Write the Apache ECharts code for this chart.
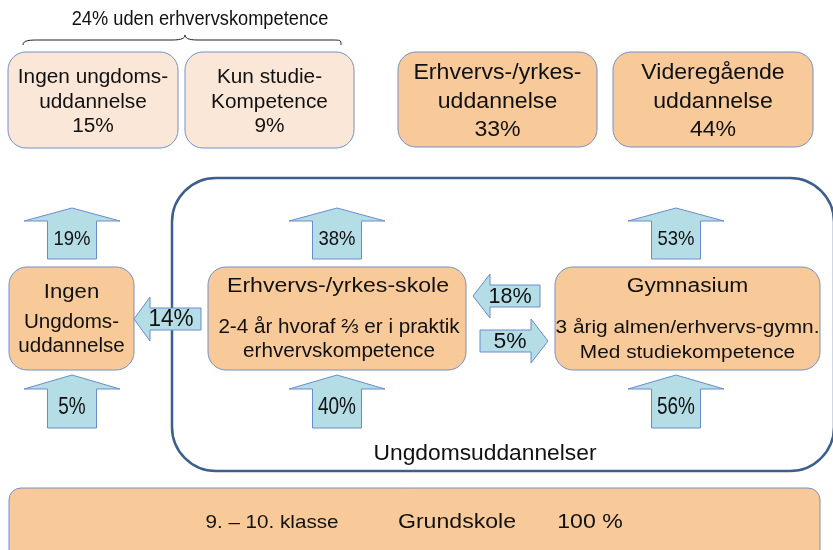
<!DOCTYPE html>
<html>
<head>
<meta charset="utf-8">
<script src="https://cdn.jsdelivr.net/npm/echarts@6/dist/echarts.min.js"></script>
<style>
  html, body { margin: 0; padding: 0; background: #ffffff; }
  #chart { width: 833px; height: 550px; }
</style>
</head>
<body>
<div id="chart"></div>
<script>
// ---- data ----
const withoutCompetence = 24;
const outcomeLabels = ["Ingen ungdoms-\nuddannelse", "Kun studie-\nKompetence", "Erhvervs-/yrkes-\nuddannelse", "Videregående\nuddannelse"];
const outcomeShares = [15, 9, 33, 44];
const schoolNames = ["Ingen", "Erhvervs-/yrkes-skole", "Gymnasium"];
const schoolNotes = ["Ungdoms-\nuddannelse", "2-4 år hvoraf ⅔ er i praktik\nerhvervskompetence", "3 årig almen/erhvervs-gymn.\nMed studiekompetence"];
const intakeShares = [5, 40, 56];   // fra grundskole
const outflowShares = [19, 38, 53]; // videre
const transferLabels = ["Erhverv → Ingen", "Gymnasium → Erhverv", "Erhverv → Gymnasium"];
const transferShares = [14, 18, 5];
const groupLabel = "Ungdomsuddannelser";
const baseLabels = ["9. – 10. klasse", "Grundskole", "100 %"];

// ---- layout (diagram units = px on hidden axes) ----
const outcomeBoxes = [[8, 52, 178, 148], [185, 52, 354, 148], [398, 52, 597, 147], [613, 52, 813, 147]];
const schoolBoxes = [[9, 267, 134, 370], [208, 267, 466, 370], [555, 267, 820, 370]];
const arrowCenters = [72, 337, 676];
const sideArrows = [
  // tip x, tail x, head base x, center y
  [134, 201, 150, 319],
  [473, 540, 490, 296],
  [548, 480, 531, 341]
];

const FONT = "Liberation Sans, Arial, sans-serif";
const orangeLight = "#fbe7d7";
const orange = "#f8ca9a";
const boxBorder = "#7690c8";
const arrowFill = "#b5dde6";
const arrowBorder = "#6a8ccc";

let myChart = echarts.init(document.getElementById("chart"));

function rectEl(api, b, fill, stroke, r, lw) {
  let p0 = api.coord([b[0], b[1]]);
  let p1 = api.coord([b[2], b[3]]);
  return {
    type: "rect",
    shape: { x: p0[0], y: p0[1], width: p1[0] - p0[0], height: p1[1] - p0[1], r: r },
    style: { fill: fill, stroke: stroke, lineWidth: lw || 1 }
  };
}

// sx: vandret skalering (originalen er strakt/presset lidt)
function textEl(api, x, y, text, size, sx, lh) {
  let p = api.coord([x, y]);
  return {
    type: "text",
    x: p[0],
    y: p[1],
    scaleX: sx || 1,
    style: {
      text: text,
      fontSize: size,
      fontFamily: FONT,
      fill: "#111111",
      align: "center",
      verticalAlign: "middle",
      lineHeight: lh || size * 1.2
    }
  };
}

function polyEl(api, pts) {
  return {
    type: "polygon",
    shape: { points: pts.map(p => api.coord(p)) },
    style: { fill: arrowFill, stroke: arrowBorder, lineWidth: 1 }
  };
}

function upArrow(api, cx, yTip, yHead, yBot) {
  let hw = 48, sw = 24.5;
  return polyEl(api, [
    [cx, yTip], [cx + hw, yHead], [cx + sw, yHead], [cx + sw, yBot],
    [cx - sw, yBot], [cx - sw, yHead], [cx - hw, yHead]
  ]);
}

function sideArrow(api, a) {
  let xt = a[0], xe = a[1], xh = a[2], cy = a[3];
  let hh = 22, sh = 11;
  return polyEl(api, [
    [xt, cy], [xh, cy - hh], [xh, cy - sh], [xe, cy - sh],
    [xe, cy + sh], [xh, cy + sh], [xh, cy + hh]
  ]);
}

function braceEl(api) {
  let pts = [[23, 45], [23, 40], [30, 40], [40, 40], [172, 40], [182, 40], [185, 38], [185, 35],
             [185, 38], [188, 40], [198, 40], [331, 40], [341, 40], [341, 40], [341, 45]];
  let c = pts.map(p => api.coord(p));
  let d = "M" + c[0] + " C" + c[1] + " " + c[2] + " " + c[3] +
          " L" + c[4] + " C" + c[5] + " " + c[6] + " " + c[7] +
          " C" + c[8] + " " + c[9] + " " + c[10] +
          " L" + c[11] + " C" + c[12] + " " + c[13] + " " + c[14];
  return {
    type: "path",
    shape: { pathData: d },
    style: { fill: "none", stroke: "#222222", lineWidth: 1 }
  };
}

myChart.setOption({
  animation: false,
  backgroundColor: "#ffffff",
  grid: { left: 0, right: 0, top: 0, bottom: 0 },
  xAxis: { type: "value", min: 0, max: 833, show: false },
  yAxis: { type: "value", min: 0, max: 550, inverse: true, show: false },
  series: [
    {
      // rammen om ungdomsuddannelser + grundskole
      type: "custom",
      silent: true,
      data: [[0]],
      renderItem: function (params, api) {
        return {
          type: "group",
          children: [
            rectEl(api, [172, 178, 834, 471], "none", "#3d5f8e", 44, 2.5),
            textEl(api, 485, 454, groupLabel, 21.5, 1.06),
            rectEl(api, [9, 488, 820, 562], orange, boxBorder, 12, 1),
            textEl(api, 272, 523, baseLabels[0], 18.6, 1.11),
            textEl(api, 457, 522, baseLabels[1], 21, 1.1),
            textEl(api, 590, 522, baseLabels[2], 21, 1.1)
          ]
        };
      }
    },
    {
      // resultater øverst
      type: "custom",
      silent: true,
      data: outcomeShares.map((v, i) => [i, v]),
      renderItem: function (params, api) {
        let i = api.value(0);
        let b = outcomeBoxes[i];
        let light = i < 2;
        let cx = (b[0] + b[2]) / 2;
        let kids = [
          rectEl(api, b, light ? orangeLight : orange, boxBorder, 18, 1),
          light
            ? textEl(api, cx, (b[1] + b[3]) / 2 + 2, outcomeLabels[i] + "\n" + api.value(1) + "%", 20, 1.04, 24.5)
            : textEl(api, cx, (b[1] + b[3]) / 2 + 2, outcomeLabels[i] + "\n" + api.value(1) + "%", 22, 1.05, 28.5)
        ];
        if (i === 0) {
          kids.push(braceEl(api));
          kids.push(textEl(api, 200, 19, withoutCompetence + "% uden erhvervskompetence", 20.5, 0.89));
        }
        return { type: "group", children: kids };
      }
    },
    {
      // skoler
      type: "custom",
      silent: true,
      data: schoolNames.map((v, i) => [i]),
      renderItem: function (params, api) {
        let i = api.value(0);
        let b = schoolBoxes[i];
        let cx = (b[0] + b[2]) / 2;
        let kids = [rectEl(api, b, orange, boxBorder, 18, 1)];
        if (i === 0) {
          kids.push(textEl(api, cx, 292, schoolNames[i], 20.5, 1.08));
          kids.push(textEl(api, cx, 334, schoolNotes[i], 20, 1.03, 24));
        } else if (i === 1) {
          kids.push(textEl(api, cx + 1, 286, schoolNames[i], 21, 1.1));
          kids.push(textEl(api, cx + 2, 340, schoolNotes[i], 19.5, 1.06, 24));
        } else {
          kids.push(textEl(api, cx, 286, schoolNames[i], 20, 1.14));
          kids.push(textEl(api, cx, 340, schoolNotes[i], 18.6, 1.12, 25));
        }
        return { type: "group", children: kids };
      }
    },
    {
      // pile op: fra grundskole og videre
      type: "custom",
      silent: true,
      data: intakeShares.map((v, i) => [i, v, outflowShares[i]]),
      renderItem: function (params, api) {
        let i = api.value(0);
        let cx = arrowCenters[i];
        return {
          type: "group",
          children: [
            upArrow(api, cx, 375, 389, 428),
            textEl(api, cx, 407, api.value(1) + "%", 24, 0.79),
            upArrow(api, cx, 208, 221, 259),
            textEl(api, cx, 239, api.value(2) + "%", 21, 0.88)
          ]
        };
      }
    },
    {
      // pile mellem skoler
      type: "custom",
      silent: true,
      data: transferShares.map((v, i) => [i, v]),
      renderItem: function (params, api) {
        let i = api.value(0);
        let a = sideArrows[i];
        let tx = i === 0 ? 171 : 510;
        let sx = i === 2 ? 1.04 : 0.98;
        let size = i === 0 ? 23 : 22;
        return {
          type: "group",
          children: [
            sideArrow(api, a),
            textEl(api, tx, a[3] + 1, api.value(1) + "%", size, sx)
          ]
        };
      }
    }
  ]
});
</script>
</body>
</html>
